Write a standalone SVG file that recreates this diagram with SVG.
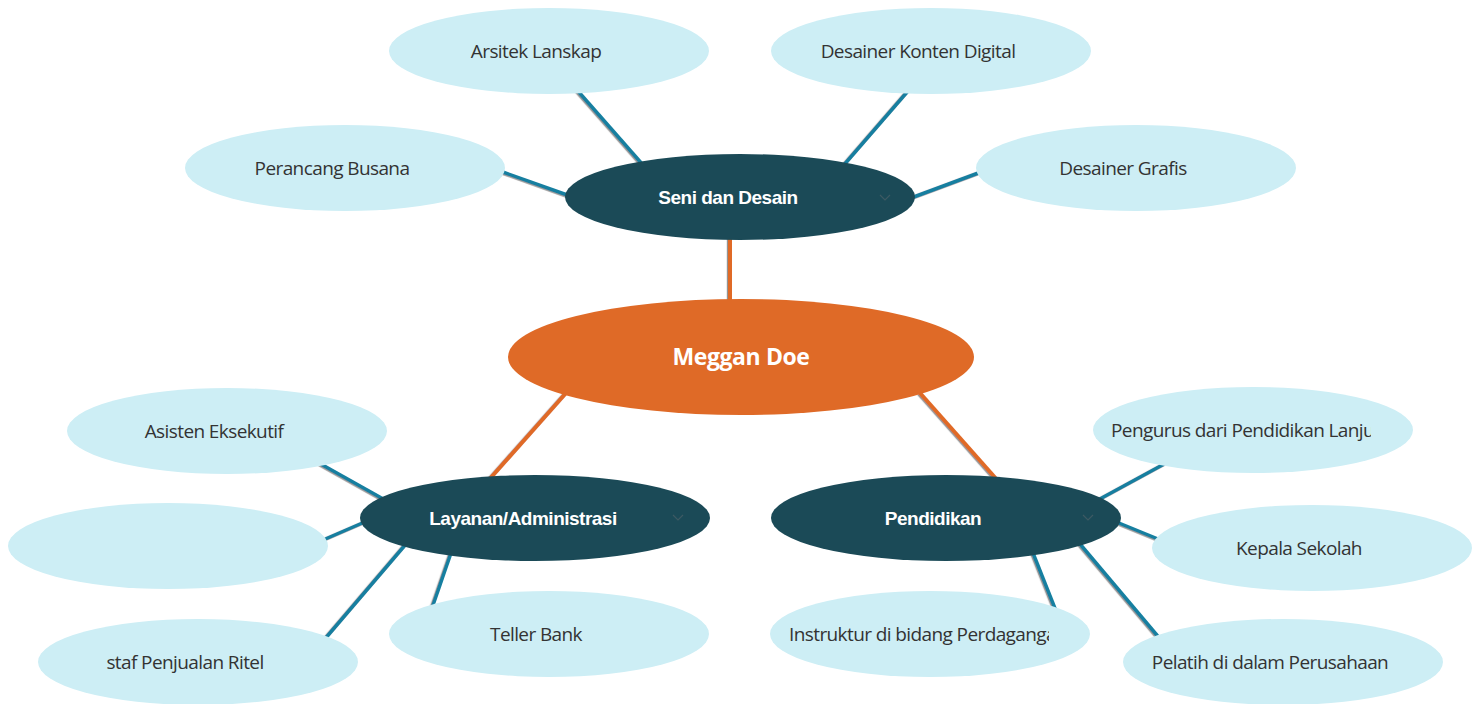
<svg xmlns="http://www.w3.org/2000/svg" width="1480" height="704" viewBox="0 0 1480 704">
<style>
.leaf{fill:#cdeef5}
.hub{fill:#1b4a57}
.root{fill:#df6a27}
.lt{font-family:"Open Sans","Noto Sans",sans-serif;font-size:19px;fill:#333333;letter-spacing:-0.6px}
.ht{font-family:"Liberation Sans",Arial,sans-serif;font-weight:bold;font-size:19px;fill:#ffffff;letter-spacing:-0.5px}
.rt{font-family:"Open Sans","Noto Sans",sans-serif;font-weight:bold;font-size:23px;fill:#ffffff;letter-spacing:-0.4px}
.teal{stroke:#137fa0;stroke-width:3.5;fill:none}
.orange{stroke:#e06a28;stroke-width:4;fill:none}
.chev{fill:none;stroke:#3d5a63;stroke-width:1.2}
</style>
<defs>
<filter id="sh" x="-10%" y="-10%" width="120%" height="120%">
<feDropShadow dx="-1.2" dy="0.8" stdDeviation="0.3" flood-color="#777777" flood-opacity="0.8"/>
</filter>
<clipPath id="c9"><rect x="1111" y="400" width="260" height="60"/></clipPath>
<clipPath id="c11"><rect x="789" y="604" width="260" height="60"/></clipPath>
</defs>
<rect width="1480" height="704" fill="#ffffff"/>
<g id="connectors" filter="url(#sh)">
<line class="orange" x1="730" y1="236" x2="730" y2="304"/>
<line class="orange" x1="566" y1="393" x2="487" y2="482"/>
<line class="orange" x1="920" y1="393" x2="999" y2="482"/>
<line class="teal" x1="577" y1="90" x2="643" y2="165"/>
<line class="teal" x1="908" y1="91" x2="843" y2="166"/>
<line class="teal" x1="500" y1="171" x2="570" y2="196"/>
<line class="teal" x1="981" y1="172" x2="911" y2="198"/>
<line class="teal" x1="319" y1="463" x2="385" y2="500"/>
<line class="teal" x1="323" y1="540" x2="367" y2="521"/>
<line class="teal" x1="324" y1="640" x2="406" y2="544"/>
<line class="teal" x1="431" y1="611" x2="451" y2="553"/>
<line class="teal" x1="1166" y1="463" x2="1098" y2="500"/>
<line class="teal" x1="1158" y1="539" x2="1114" y2="521"/>
<line class="teal" x1="1056" y1="611" x2="1033" y2="553"/>
<line class="teal" x1="1161" y1="640" x2="1080" y2="544"/>
</g>
<g id="n-root"><ellipse class="root" cx="741" cy="357" rx="233" ry="58"/><text class="rt" x="741" y="365" text-anchor="middle">Meggan Doe</text></g>
<g id="n-seni"><ellipse class="hub" cx="740" cy="197" rx="175" ry="43"/><text class="ht" x="728" y="204" text-anchor="middle">Seni dan Desain</text><polyline class="chev" points="880,195 885,200 890,195"/></g>
<g id="n-layanan"><ellipse class="hub" cx="535" cy="518" rx="175" ry="43"/><text class="ht" x="523" y="525" text-anchor="middle">Layanan/Administrasi</text><polyline class="chev" points="673,515 678,520 683,515"/></g>
<g id="n-pendidikan"><ellipse class="hub" cx="946" cy="518" rx="175" ry="43"/><text class="ht" x="933" y="525" text-anchor="middle">Pendidikan</text><polyline class="chev" points="1083,515 1088,520 1093,515"/></g>
<g id="n-arsitek"><ellipse class="leaf" cx="549" cy="51" rx="160" ry="43"/><text class="lt" x="536" y="58" text-anchor="middle">Arsitek Lanskap</text></g>
<g id="n-konten"><ellipse class="leaf" cx="931" cy="51" rx="160" ry="43"/><text class="lt" x="918" y="58" text-anchor="middle">Desainer Konten Digital</text></g>
<g id="n-busana"><ellipse class="leaf" cx="345" cy="168" rx="160" ry="43"/><text class="lt" x="332" y="175" text-anchor="middle">Perancang Busana</text></g>
<g id="n-grafis"><ellipse class="leaf" cx="1136" cy="168" rx="160" ry="43"/><text class="lt" x="1123" y="175" text-anchor="middle">Desainer Grafis</text></g>
<g id="n-asisten"><ellipse class="leaf" cx="227" cy="431" rx="160" ry="43"/><text class="lt" x="214" y="438" text-anchor="middle">Asisten Eksekutif</text></g>
<g id="n-empty"><ellipse class="leaf" cx="168" cy="546" rx="160" ry="43"/></g>
<g id="n-staf"><ellipse class="leaf" cx="198" cy="662" rx="160" ry="43"/><text class="lt" x="185" y="669" text-anchor="middle">staf Penjualan Ritel</text></g>
<g id="n-teller"><ellipse class="leaf" cx="549" cy="634" rx="160" ry="43"/><text class="lt" x="536" y="641" text-anchor="middle">Teller Bank</text></g>
<g id="n-pengurus"><ellipse class="leaf" cx="1253" cy="430" rx="160" ry="43"/><text class="lt" x="1111" y="437" clip-path="url(#c9)">Pengurus dari Pendidikan Lanjutan</text></g>
<g id="n-kepala"><ellipse class="leaf" cx="1312" cy="548" rx="160" ry="43"/><text class="lt" x="1299" y="555" text-anchor="middle">Kepala Sekolah</text></g>
<g id="n-instruktur"><ellipse class="leaf" cx="930" cy="634" rx="160" ry="43"/><text class="lt" x="789" y="641" clip-path="url(#c11)">Instruktur di bidang Perdagangan</text></g>
<g id="n-pelatih"><ellipse class="leaf" cx="1283" cy="662" rx="160" ry="43"/><text class="lt" x="1270" y="669" text-anchor="middle">Pelatih di dalam Perusahaan</text></g>
</svg>
